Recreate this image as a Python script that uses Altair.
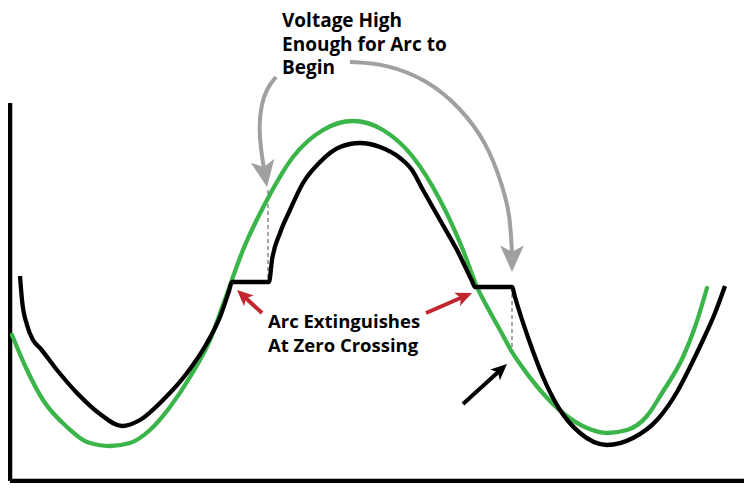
# Arco elétrico: tensão da fonte (verde) x tensão do arco (preta), com setas de anotação
import math
import altair as alt
import pandas as pd

# Pontos, em pixels (x para a direita, y para baixo)
verde_x = [12, 27, 43, 67, 87, 110, 130, 150, 170, 190, 210, 223, 243, 267, 293, 323, 353, 383,
           413, 440, 463, 477, 490, 500, 512, 520, 540, 563, 587, 607, 627, 647, 662, 683, 695, 707]
verde_y = [335, 370, 400, 427, 442, 446, 443, 430, 407, 377, 340, 305, 250, 200, 157, 130, 121, 130,
           157, 200, 250, 287, 312, 330, 352, 364, 390, 413, 428, 433, 430, 416, 393, 357, 327, 288]

preta_x = [20, 22, 27, 33, 40, 57, 77, 100, 122, 140, 163, 187, 207, 220, 229, 232, 269, 272, 280,
           290, 303, 320, 340, 360, 380, 400, 412, 423, 440, 457, 472, 475, 512, 515, 518, 530, 543,
           560, 580, 607, 633, 657, 677, 690, 703, 715, 725]
preta_y = [276, 300, 325, 340, 348, 370, 393, 414, 426, 420, 400, 373, 343, 317, 291, 282, 282, 260, 233,
           210, 183, 162, 147, 143, 147, 158, 170, 190, 220, 250, 281, 287, 287, 297, 307, 343, 377,
           410, 433, 445, 438, 420, 392, 367, 340, 313, 286]

# Linhas tracejadas verticais (início do arco)
tracejado_x = [268, 512]
tracejado_topo = [190, 287]
tracejado_base = [282, 354]

# Setas cinza curvas: haste e ponta
cinza_esq_x = [276, 267, 261, 259, 261, 264]
cinza_esq_y = [77, 88, 105, 128, 150, 169]
cinza_dir_x = [350, 387, 427, 460, 487, 503, 510, 512]
cinza_dir_y = [62, 64, 80, 107, 143, 187, 215, 254]
cinza_ponta_x = [267, 512]
cinza_ponta_y = [187, 272]

# Setas retas: cauda e ponta (vermelhas e preta)
vermelha_cauda_x = [262, 426]
vermelha_cauda_y = [313, 313]
vermelha_ponta_x = [237, 472]
vermelha_ponta_y = [290, 293]
preta_cauda = (463, 404)
preta_ponta = (507, 364)

# Eixo vertical (topo)
eixo_topo = 103

# Textos
texto_voltagem = "Voltage High\nEnough for Arc to\nBegin"
texto_arco = "Arc Extinguishes\nAt Zero Crossing"
texto_voltagem_xy = (282, 27)
texto_arco_xy = (268, 328)

VERDE = "#3BB44A"
VERMELHO = "#C1272D"
CINZA = "#A0A0A0"
PONTA = "M0,0L0.85,1.9L0,1.45L-0.85,1.9Z"   # ponta de seta com entalhe, bico na origem

W, H = 734, 473
sx = alt.Scale(domain=[10, 10 + W], nice=False, zero=False)
sy = alt.Scale(domain=[8, 8 + H], reverse=True, nice=False, zero=False)
X = alt.X("x:Q", scale=sx, axis=None)
Y = alt.Y("y:Q", scale=sy, axis=None)


def angulo(x0, y0, x1, y1):
    # ângulo da ponta (graus, sentido horário a partir de "para cima")
    return math.degrees(math.atan2(x1 - x0, -(y1 - y0))) % 360


def fim_haste(x0, y0, x1, y1, recuo=10):
    d = math.hypot(x1 - x0, y1 - y0)
    return x1 - (x1 - x0) / d * recuo, y1 - (y1 - y0) / d * recuo


# Curvas
df_verde = pd.DataFrame({"x": verde_x, "y": verde_y})
df_preta = pd.DataFrame({"x": preta_x, "y": preta_y})

linha_verde = alt.Chart(df_verde).mark_line(
    color=VERDE, strokeWidth=4.3, interpolate="monotone", strokeCap="round"
).encode(x=X, y=Y)
linha_preta = alt.Chart(df_preta).mark_line(
    color="black", strokeWidth=4.3, interpolate="monotone"
).encode(x=X, y=Y)

# Eixos desenhados como réguas: vertical (a partir do topo lido) e horizontal na base
eixos = pd.DataFrame({"x": [10, 10], "x2": [10, 10 + W], "y": [eixo_topo, 8 + H], "y2": [8 + H, 8 + H]})
eixo = alt.Chart(eixos).mark_rule(color="black", strokeWidth=4.5).encode(
    x=X, x2="x2:Q", y=Y, y2="y2:Q"
)

# Tracejados
tracejados = alt.Chart(pd.DataFrame({"x": tracejado_x, "y": tracejado_topo, "y2": tracejado_base})).mark_rule(
    color="#777777", strokeWidth=1.3, strokeDash=[4, 3]
).encode(x=X, y=Y, y2="y2:Q")

# Hastes das setas
hastes = []
for k, (xs, ys) in enumerate([(cinza_esq_x, cinza_esq_y), (cinza_dir_x, cinza_dir_y)]):
    hastes.append(pd.DataFrame({"x": xs, "y": ys, "seta": f"c{k}", "tipo": "cinza", "i": list(range(len(xs)))}))
for k in range(2):
    x0, y0 = vermelha_cauda_x[k], vermelha_cauda_y[k]
    x1, y1 = fim_haste(x0, y0, vermelha_ponta_x[k], vermelha_ponta_y[k])
    hastes.append(pd.DataFrame({"x": [x0, x1], "y": [y0, y1], "seta": f"v{k}", "tipo": "vermelha", "i": [0, 1]}))
x1, y1 = fim_haste(*preta_cauda, *preta_ponta)
hastes.append(pd.DataFrame({"x": [preta_cauda[0], x1], "y": [preta_cauda[1], y1], "seta": "p", "tipo": "preta", "i": [0, 1]}))
hastes = pd.concat(hastes, ignore_index=True)

cores = alt.Scale(domain=["cinza", "vermelha", "preta"], range=[CINZA, VERMELHO, "black"])

linhas_setas = alt.Chart(hastes).mark_line(strokeWidth=4, interpolate="basis").encode(
    x=X, y=Y,
    color=alt.Color("tipo:N", scale=cores, legend=None),
    detail="seta:N", order="i:Q",
)

# Pontas das setas
pontas = pd.DataFrame({
    "x": cinza_ponta_x + vermelha_ponta_x + [preta_ponta[0]],
    "y": cinza_ponta_y + vermelha_ponta_y + [preta_ponta[1]],
    "tipo": ["cinza", "cinza", "vermelha", "vermelha", "preta"],
    "ang": [
        angulo(cinza_esq_x[-1], cinza_esq_y[-1], cinza_ponta_x[0], cinza_ponta_y[0]),
        angulo(cinza_dir_x[-1], cinza_dir_y[-1], cinza_ponta_x[1], cinza_ponta_y[1]),
        angulo(vermelha_cauda_x[0], vermelha_cauda_y[0], vermelha_ponta_x[0], vermelha_ponta_y[0]),
        angulo(vermelha_cauda_x[1], vermelha_cauda_y[1], vermelha_ponta_x[1], vermelha_ponta_y[1]),
        angulo(*preta_cauda, *preta_ponta),
    ],
})


def camada_pontas(df, tamanho):
    return alt.Chart(df).mark_point(shape=PONTA, filled=True, opacity=1, size=tamanho).encode(
        x=X, y=Y,
        color=alt.Color("tipo:N", scale=cores, legend=None),
        angle=alt.Angle("ang:Q", scale=None),
    )


pontas_grandes = camada_pontas(pontas[pontas.tipo == "cinza"], 784)
pontas_pequenas = camada_pontas(pontas[pontas.tipo != "cinza"], 289)

# Textos
rotulo_voltagem = alt.Chart(pd.DataFrame({"x": [texto_voltagem_xy[0]], "y": [texto_voltagem_xy[1]], "t": [texto_voltagem]})).mark_text(
    align="left", baseline="alphabetic", font="Open Sans", fontWeight="bold", fontSize=19, lineBreak="\n", lineHeight=23.5, color="black"
).encode(x=X, y=Y, text="t:N")

rotulo_arco = alt.Chart(pd.DataFrame({"x": [texto_arco_xy[0]], "y": [texto_arco_xy[1]], "t": [texto_arco]})).mark_text(
    align="left", baseline="alphabetic", font="Open Sans", fontWeight="bold", fontSize=18.5, lineBreak="\n", lineHeight=23.5, color="black"
).encode(x=X, y=Y, text="t:N")

chart = alt.layer(
    eixo, tracejados, linha_verde, linha_preta, linhas_setas, pontas_grandes, pontas_pequenas,
    rotulo_voltagem, rotulo_arco
).properties(
    width=W, height=H,
    padding={"left": 2, "top": 0, "right": 0, "bottom": 2},
    autosize=alt.AutoSizeParams(type="none"),
).configure_view(stroke=None)

chart.save("out.html", embed_options={"renderer": "svg", "actions": False})
